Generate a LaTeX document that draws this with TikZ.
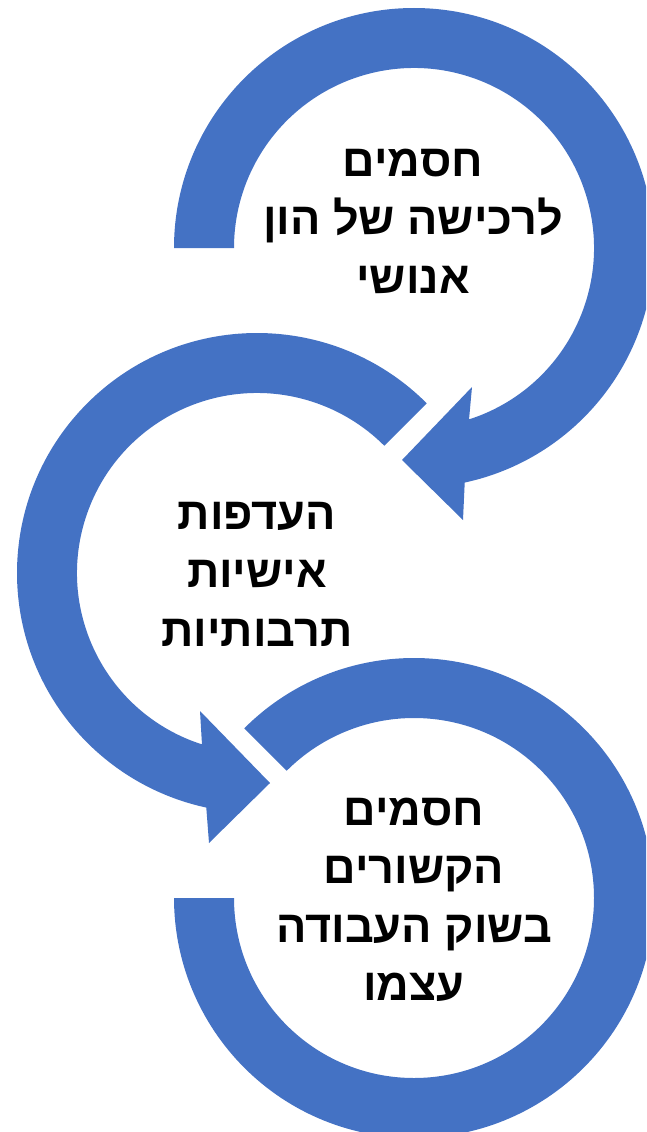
\documentclass[tikz,border=0pt]{standalone}
\usepackage{fontspec}
\usetikzlibrary{calc}
\TeXXeTstate=1
\newfontfamily\hebfont[Script=Hebrew]{Liberation Sans}
\definecolor{arcblue}{HTML}{4472C4}

\begin{document}
\begin{tikzpicture}[
  x=1pt, y=1pt,
  ringarrow/.style={fill=arcblue, draw=none},
  caption/.style={font=\hebfont\bfseries\fontsize{45}{58.5}\selectfont, align=center, inner sep=0pt}
]
\clip (0,0) rectangle (646,-1132);
\coordinate (c1) at (414,-248);
\coordinate (c2) at (257,-573);
\coordinate (c3) at (414,-898);

% upper ring, head at lower left
\fill[ringarrow] ($(c1)+(180:240)$) arc[start angle=180, end angle=-77.8, radius=240]
  -- (463,-520) -- (402,-460) -- (472,-387)
  -- ($(c1)+(-72.2:180)$) arc[start angle=-72.2, end angle=180, radius=180] -- cycle;

% middle ring, head at lower right
\fill[ringarrow] ($(c2)+(45:240)$) arc[start angle=45, end angle=257.8, radius=240]
  -- (209,-843) -- (270,-783) -- (200,-711)
  -- ($(c2)+(252.2:180)$) arc[start angle=252.2, end angle=45, radius=180] -- cycle;

% lower ring, no head
\fill[ringarrow] ($(c3)+(135:240)$) arc[start angle=135, end angle=-180, radius=240]
  -- ($(c3)+(180:180)$) arc[start angle=-180, end angle=135, radius=180] -- cycle;

\node[caption] (barrier) at (413,-221) {\beginR חסמים\endR\\\beginR לרכישה של הון\endR\\\beginR אנושי\endR};
\node[caption] (prefs) at (257,-574) {\beginR העדפות\endR\\\beginR אישיות\endR\\\beginR תרבותיות\endR};
\node[caption] (market) at (414,-900) {\beginR חסמים\endR\\\beginR הקשורים\endR\\\beginR בשוק העבודה\endR\\\beginR עצמו\endR};
\end{tikzpicture}
\end{document}
